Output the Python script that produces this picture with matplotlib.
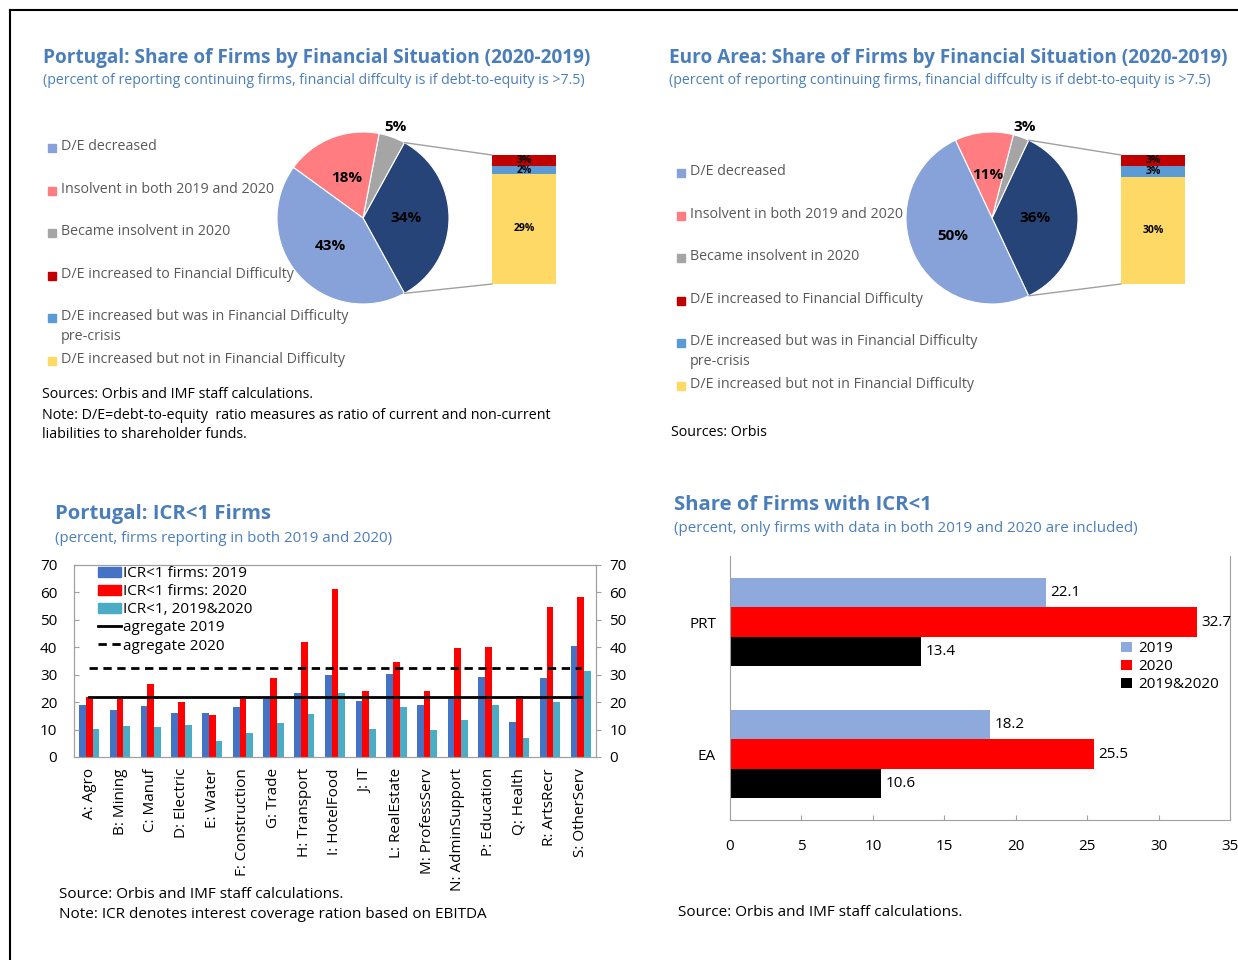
import numpy as np
import matplotlib
matplotlib.use("Agg")
import matplotlib.pyplot as plt
from matplotlib.lines import Line2D
from matplotlib.patches import ConnectionPatch, Patch

plt.rcParams['font.family'] = ['Open Sans', 'DejaVu Sans']

W, H = 1238, 960

# pie data (order: D/E increased, became insolvent, insolvent both, D/E decreased)
pie_prt = [34, 5, 18, 43]
pie_ea = [36, 3, 11, 50]
# breakdown of "D/E increased" (bottom to top: not in FD, was in FD pre-crisis, to FD)
bar_prt = [29, 2, 3]
bar_ea = [30, 3, 3]

pie_legend = ["D/E decreased", "Insolvent in both 2019 and 2020", "Became insolvent in 2020",
              "D/E increased to Financial Difficulty",
              "D/E increased but was in Financial Difficulty\npre-crisis",
              "D/E increased but not in Financial Difficulty"]

# ICR<1 by sector
sectors = ["A: Agro", "B: Mining", "C: Manuf", "D: Electric", "E: Water", "F: Construction",
           "G: Trade", "H: Transport", "I: HotelFood", "J: IT", "L: RealEstate",
           "M: ProfessServ", "N: AdminSupport", "P: Education", "Q: Health", "R: ArtsRecr",
           "S: OtherServ"]
icr_2019 = [18.9, 17.1, 18.6, 15.9, 15.9, 18.2, 21.2, 23.3, 30.0, 20.4, 30.4, 18.8, 21.1,
            29.0, 12.9, 28.8, 40.4]
icr_2020 = [21.9, 21.1, 26.5, 20.0, 15.3, 22.2, 28.8, 41.8, 61.3, 24.2, 34.5, 24.2, 39.8,
            40.1, 22.2, 54.7, 58.3]
icr_both = [10.2, 11.4, 11.0, 11.6, 5.9, 8.7, 12.4, 15.7, 23.3, 10.2, 18.1, 9.9, 13.5,
            18.9, 7.0, 20.0, 31.2]
agg_2019 = 22.0
agg_2020 = 32.5

# ICR<1 PRT vs EA
countries = ["PRT", "EA"]
share_2019 = [22.1, 18.2]
share_2020 = [32.7, 25.5]
share_both = [13.4, 10.6]

c_light = '#86A2D8'
c_pink = '#FF7C80'
c_gray = '#A5A5A5'
c_navy = '#264478'
c_dred = '#C00000'
c_blue = '#5B9BD5'
c_yellow = '#FFD966'
title_col = '#4A7EBB'
leg_col = '#595959'

fig = plt.figure(figsize=(W / 100, H / 100), dpi=100)


def px_axes(left, top, right, bottom):
    return fig.add_axes([left / W, 1 - bottom / H, (right - left) / W, (bottom - top) / H])


def ftext(x, y, s, **kw):
    fig.text(x / W, 1 - y / H, s, **kw)


# frame lines
fig.add_artist(Line2D([10 / W, 1], [1 - 10 / H, 1 - 10 / H], color='black', lw=1.5))
fig.add_artist(Line2D([10 / W, 10 / W], [0, 1 - 10 / H], color='black', lw=1.5))


def pie_panel(cx, cy, r, vals, bvals, bar_box, leg_x, leg_ys, title, tx):
    ftext(tx, 58, title, fontsize=13.7, fontweight='bold', color=title_col, va='center')
    ftext(tx, 80, "(percent of reporting continuing firms, financial diffculty is if debt-to-equity is >7.5)",
          fontsize=10.2, color=title_col, va='center')
    ax = px_axes(cx - r, cy - r, cx + r, cy + r)
    start = -vals[0] / 100 * 360 / 2
    wedges, _ = ax.pie(vals, colors=[c_navy, c_gray, c_pink, c_light], startangle=start,
                       counterclock=True, radius=1,
                       wedgeprops=dict(edgecolor='white', linewidth=0.8))
    ax.set_xlim(-1, 1)
    ax.set_ylim(-1, 1)
    ax.set_aspect('equal')
    ax.axis('off')
    cum = start
    dists = [0.5, 1.12, 0.5, 0.5]
    for v, d in zip(vals, dists):
        mid = np.deg2rad(cum + v * 3.6 / 2)
        ax.text(d * np.cos(mid), d * np.sin(mid), f"{v}%", ha='center', va='center',
                fontsize=11, fontweight='bold', color='black')
        cum += v * 3.6
    # bar of pie
    bx = px_axes(*bar_box)
    bottom = 0
    for v, c in zip(bvals, [c_yellow, c_blue, c_dred]):
        bx.bar(0, v, bottom=bottom, width=1, color=c)
        bx.text(0, bottom + v / 2, f"{v}%", ha='center', va='center', fontsize=7.5,
                fontweight='bold', color='black')
        bottom += v
    bx.set_xlim(-0.5, 0.5)
    bx.set_ylim(0, bottom)
    bx.axis('off')
    a0 = np.deg2rad(start)
    a1 = np.deg2rad(-start)
    for ang, yb in [(a1, bottom), (a0, 0)]:
        con = ConnectionPatch(xyA=(np.cos(ang), np.sin(ang)), coordsA=ax.transData,
                              xyB=(-0.5, yb), coordsB=bx.transData, color='#A0A0A0', lw=1)
        fig.add_artist(con)
    # legend
    cols = [c_light, c_pink, c_gray, c_dred, c_blue, c_yellow]
    for lab, c, y in zip(pie_legend, cols, leg_ys):
        fig.patches.append(plt.Rectangle(((leg_x) / W, 1 - (y + 4) / H), 8 / W, 8 / H,
                                         transform=fig.transFigure, color=c))
        ftext(leg_x + 13, y - 9, lab, fontsize=10.3, color=leg_col, va='top', linespacing=1.45)


pie_panel(363, 218, 86, pie_prt, bar_prt, (492, 155, 556, 284), 48,
          [148, 191, 233, 276, 318, 361],
          "Portugal: Share of Firms by Financial Situation (2020-2019)", 43)
pie_panel(992, 218, 86, pie_ea, bar_ea, (1121, 155, 1185, 284), 677,
          [173, 216, 258, 301, 343, 386],
          "Euro Area: Share of Firms by Financial Situation (2020-2019)", 669)

ftext(42, 395, "Sources: Orbis and IMF staff calculations.", fontsize=10.3, va='center')
ftext(42, 415, "Note: D/E=debt-to-equity  ratio measures as ratio of current and non-current",
      fontsize=10.3, va='center')
ftext(42, 434, "liabilities to shareholder funds.", fontsize=10.3, va='center')
ftext(671, 432, "Sources: Orbis", fontsize=10.3, va='center')

# ---- Portugal ICR<1 by sector
ftext(55, 514, "Portugal: ICR<1 Firms", fontsize=14.6, fontweight='bold', color=title_col,
      va='center')
ftext(55, 538, "(percent, firms reporting in both 2019 and 2020)", fontsize=10.8, color=title_col,
      va='center')
ax = px_axes(74, 565, 596, 757)
x = np.arange(len(sectors))
w = 0.22
ax.bar(x - w, icr_2019, w, color='#4472C4')
ax.bar(x, icr_2020, w, color='#FF0000')
ax.bar(x + w, icr_both, w, color='#4BACC6')
ax.plot([x[0], x[-1]], [agg_2019, agg_2019], color='black', lw=2)
ax.plot([x[0], x[-1]], [agg_2020, agg_2020], color='black', lw=2, ls=(0, (3, 2)))
ax.set_xlim(-0.5, len(sectors) - 0.5)
ax.set_ylim(0, 70)
ax.set_yticks(range(0, 71, 10))
ax.set_xticks(x)
ax.set_xticklabels(sectors, rotation=90, fontsize=11)
ax.tick_params(axis='x', length=0, pad=8)
ax.tick_params(axis='y', labelsize=11, direction='in', colors='#A0A0A0', labelcolor='black',
               pad=12)
for s in ax.spines.values():
    s.set_color('#A0A0A0')
ax2 = ax.twinx()
ax2.set_ylim(0, 70)
ax2.set_yticks(range(0, 71, 10))
ax2.tick_params(axis='y', labelsize=11, colors='#A0A0A0', labelcolor='black', pad=6)
for s in ax2.spines.values():
    s.set_color('#A0A0A0')
handles = [Patch(color='#4472C4'), Patch(color='#FF0000'), Patch(color='#4BACC6'),
           Line2D([], [], color='black', lw=2), Line2D([], [], color='black', lw=2, ls=(0, (3, 2)))]
labels = ['ICR<1 firms: 2019', 'ICR<1 firms: 2020', 'ICR<1, 2019&2020', 'agregate 2019',
          'agregate 2020']
ax.legend(handles, labels, loc='upper left', bbox_to_anchor=(0.035, 1.025), frameon=False,
          fontsize=11, handlelength=1.5, handleheight=0.6, handletextpad=0.1,
          labelspacing=0.2, borderaxespad=0)
ftext(59, 894, "Source: Orbis and IMF staff calculations.", fontsize=11, va='center')
ftext(59, 915, "Note: ICR denotes interest coverage ration based on EBITDA", fontsize=11,
      va='center')

# ---- Share of firms with ICR<1
ftext(674, 505, "Share of Firms with ICR<1", fontsize=14.6, fontweight='bold', color=title_col,
      va='center')
ftext(674, 528, "(percent, only firms with data in both 2019 and 2020 are included)", fontsize=10.9,
      color=title_col, va='center')
bx = px_axes(730, 556, 1230, 820)
y = np.arange(len(countries))
h = 0.22
r1 = bx.barh(y - h, share_2019, h, color='#8EA9DB', label='2019')
r2 = bx.barh(y, share_2020, h, color='#FF0000', label='2020')
r3 = bx.barh(y + h, share_both, h, color='black', label='2019&2020')
for rr in (r1, r2, r3):
    bx.bar_label(rr, fmt='%.1f', padding=3, fontsize=11)
bx.set_ylim(1.5, -0.5)
bx.set_yticks(y)
bx.set_yticklabels(countries, fontsize=11)
bx.set_xlim(0, 35)
bx.set_xticks(range(0, 36, 5))
bx.tick_params(axis='x', labelsize=11, direction='in', colors='#A0A0A0', labelcolor='black',
               pad=14)
bx.tick_params(axis='y', length=0, pad=10)
for s in bx.spines.values():
    s.set_color('#A0A0A0')
bx.spines['top'].set_visible(False)
bx.legend(loc='upper left', bbox_to_anchor=(0.77, 0.70), frameon=False, fontsize=11,
          handlelength=0.7, handleheight=0.7, handletextpad=0.4, labelspacing=0.2,
          borderaxespad=0)
ftext(678, 913, "Source: Orbis and IMF staff calculations.", fontsize=11, va='center')

fig.savefig("out.png", dpi=100)
